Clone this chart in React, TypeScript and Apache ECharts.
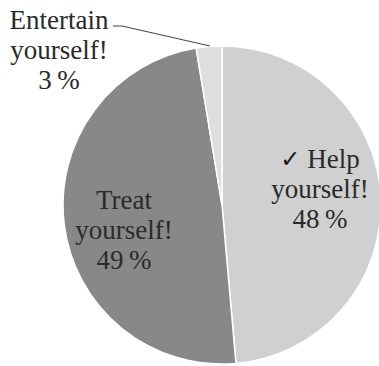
import React, { useEffect, useRef } from "react";
import * as echarts from "echarts";

const categories = ["Help yourself!", "Treat yourself!", "Entertain yourself!"];
const labelTexts = ["{chk|\u2713} Help\nyourself!", "Treat\nyourself!", "Entertain\nyourself!"];
const values = [48.6, 48.8, 2.6];
const percentLabels = [48, 49, 3];
const colors = ["#d0d0d0", "#888888", "#dedede"];

export default function App() {
  const ref = useRef<HTMLDivElement>(null);
  useEffect(() => {
    if (!ref.current) return;
    const chart = echarts.init(ref.current, undefined, { renderer: "svg" });
    const labelPos = [
      [320, 189],
      [124, 230],
      [59, 50],
    ];
    const serif = "'Liberation Serif', 'Times New Roman', serif";
    chart.setOption({
      animation: false,
      backgroundColor: "#ffffff",
      textStyle: { fontFamily: serif },
      graphic: [
        {
          type: "polyline",
          shape: { points: [[113, 26], [122, 26], [210, 46]] },
          style: { stroke: "#404040", lineWidth: 1, fill: null },
          z: 10,
        },
      ],
      series: [
        {
          type: "pie",
          center: [222, 205],
          radius: 159,
          startAngle: 90,
          clockwise: true,
          avoidLabelOverlap: false,
          itemStyle: { borderColor: "#ffffff", borderWidth: 1.5 },
          label: {
            show: true,
            position: "inside",
            fontFamily: serif,
            fontSize: 27,
            lineHeight: 30,
            color: "#2a2a2a",
            align: "center",
            rich: {
              chk: {
                fontFamily: "DejaVu Sans",
                fontWeight: "bold",
                fontSize: 24,
                lineHeight: 30,
                color: "#1a1a1a",
              },
            },
            formatter: (p: any) =>
              labelTexts[p.dataIndex] + "\n" + percentLabels[p.dataIndex] + "\u2009%",
          },
          labelLine: { show: false },
          labelLayout: (p: any) => ({
            x: labelPos[p.dataIndex][0],
            y: labelPos[p.dataIndex][1],
            align: "center",
            verticalAlign: "middle",
          }),
          data: categories.map((name, i) => ({
            name,
            value: values[i],
            itemStyle: { color: colors[i] },
          })),
        },
      ],
    });
    return () => chart.dispose();
  }, []);
  return (
    <div
      ref={ref}
      style={{ position: "fixed", left: 0, top: 0, width: 379, height: 366 }}
    />
  );
}
